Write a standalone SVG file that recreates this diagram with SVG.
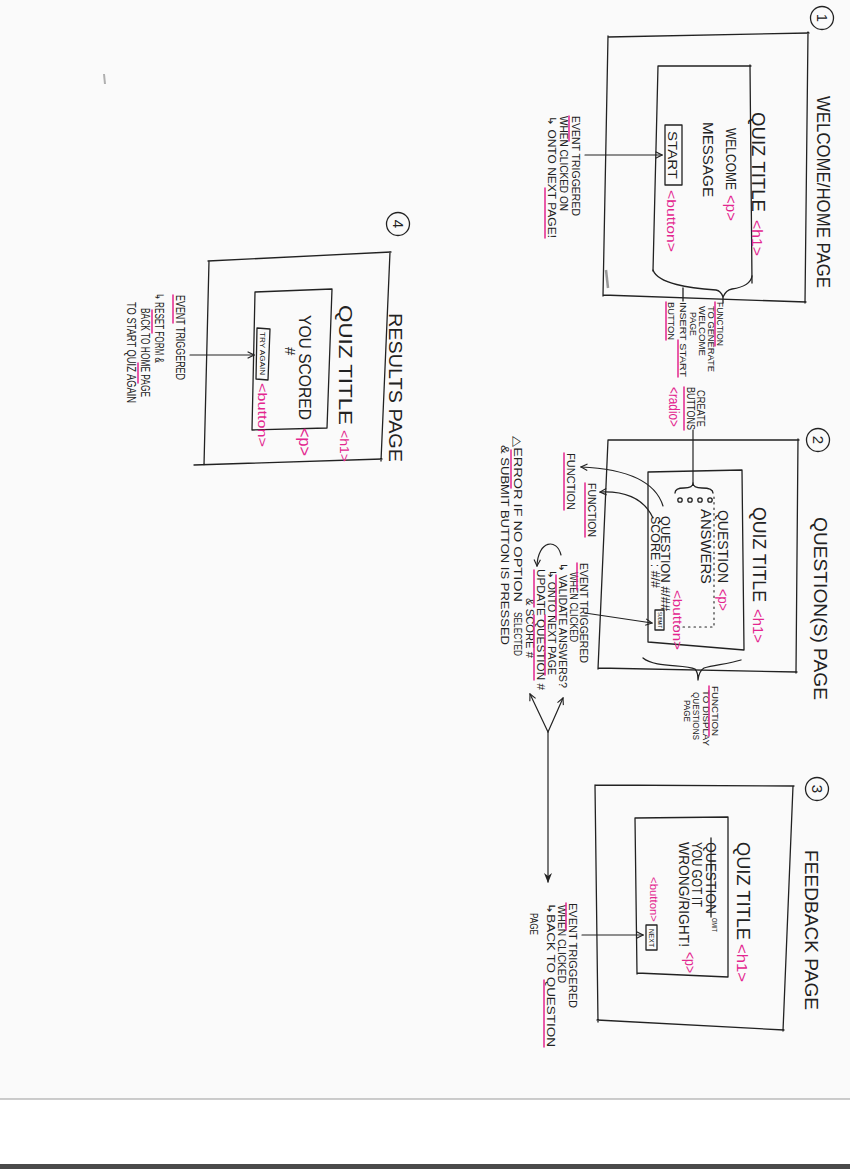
<svg xmlns="http://www.w3.org/2000/svg" width="850" height="1169" viewBox="0 0 850 1169">
  <style>
    .ink{fill:none;stroke:#222;stroke-width:1.3;stroke-linecap:round;stroke-linejoin:round}
    .dot{fill:none;stroke:#222;stroke-width:1.1;stroke-dasharray:1.5 4;stroke-linecap:round}
    .pk{fill:none;stroke:#e3268f;stroke-width:1.5;stroke-linecap:round}
    text{font-family:"Liberation Sans","DejaVu Sans",sans-serif;fill:#222}
    .tag{fill:#e3268f}
    .h{font-size:18px}
    .q{font-size:19px}
    .m{font-size:15px}
    .s{font-size:11px}
    .xs{font-size:9.5px}
    .tiny{font-size:6px}
    .con{fill:none;stroke:#222;stroke-width:1.2;stroke-linecap:round}
  </style>
  <defs>
    <marker id="open" viewBox="0 0 10 10" refX="9" refY="5" markerWidth="8" markerHeight="8" orient="auto" markerUnits="userSpaceOnUse">
      <path d="M1,1 L9,5 L1,9" fill="none" stroke="#222" stroke-width="1.4"/>
    </marker>
    <marker id="solid" viewBox="0 0 10 10" refX="9" refY="5" markerWidth="10" markerHeight="10" orient="auto" markerUnits="userSpaceOnUse">
      <path d="M0,1 L10,5 L0,9 L3,5 Z" fill="#222"/>
    </marker>
  </defs>

  <!-- paper -->
  <rect x="0" y="0" width="850" height="1169" fill="#fafafa"/>
  <rect x="0" y="1099" width="850" height="66" fill="#ffffff"/>
  <line x1="0" y1="1099" x2="850" y2="1099" stroke="#9a9a9a" stroke-width="1"/>
  <rect x="0" y="1164" width="850" height="5" fill="#4a4a4a"/>
  <path d="M104,74 l1,10" stroke="#b0b0b0" stroke-width="2" fill="none"/>

  <!-- 1: welcome / home page -->
  <g id="page-welcome">
    <circle class="ink" cx="822" cy="18" r="11.5"/>
    <text class="m" transform="translate(817,18) rotate(90)" text-anchor="middle">1</text>
    <text class="h" transform="translate(817,96) rotate(90)" textLength="192" lengthAdjust="spacingAndGlyphs">WELCOME/HOME PAGE</text>
    <path class="ink" d="M608,37 L809,33 M808,32 L805,303 M603,295 L806,302 M608,36 L603,296"/>
    <path d="M606,270 l2,18" stroke="#555" stroke-width="2.5" fill="none" opacity="0.6"/>
    <path class="ink" d="M658,66 L751,66 M750,65 L752,283 M658,66 L653,271"/>
    <path class="ink" d="M653,270 C658,284 690,288 716,290 Q721,291 723,297 Q726,290 732,289 C745,287 751,283 752,276"/>
    <path class="ink" d="M723,297 L723,303 M683,288 L683,301"/>
    <text class="q" transform="translate(752,112) rotate(90)" textLength="100" lengthAdjust="spacingAndGlyphs">QUIZ TITLE</text>
    <text class="m tag" transform="translate(752,220) rotate(90)" textLength="36" lengthAdjust="spacingAndGlyphs">&lt;h1&gt;</text>
    <text class="m" transform="translate(726,128) rotate(90)" textLength="62" lengthAdjust="spacingAndGlyphs">WELCOME</text>
    <text class="m tag" transform="translate(726,195) rotate(90)" textLength="26" lengthAdjust="spacingAndGlyphs">&lt;p&gt;</text>
    <text class="m" transform="translate(703,122) rotate(90)" textLength="75" lengthAdjust="spacingAndGlyphs">MESSAGE</text>
    <rect class="ink" x="665" y="125" width="17" height="60"/>
    <text class="m" style="font-size:13px" transform="translate(668,131) rotate(90)" textLength="48" lengthAdjust="spacingAndGlyphs">START</text>
    <text class="m tag" style="font-size:13px" transform="translate(667,190) rotate(90)" textLength="62" lengthAdjust="spacingAndGlyphs">&lt;button&gt;</text>
  </g>

  <!-- notes for page 1 -->
  <g id="note-start-event">
    <text class="s" transform="translate(572,116) rotate(90)" textLength="100" lengthAdjust="spacingAndGlyphs">EVENT TRIGGERED</text>
    <text class="s" transform="translate(560,116) rotate(90)" textLength="95" lengthAdjust="spacingAndGlyphs">WHEN CLICKED ON</text>
    <text class="s" transform="translate(548,116) rotate(90)" textLength="122" lengthAdjust="spacingAndGlyphs">↳ ONTO NEXT PAGE!</text>
    <path class="pk" d="M569,116 L569,141 M545,188 L545,238"/>
  </g>
  <g id="note-welcome-function">
    <text class="xs" transform="translate(717,302) rotate(90)" textLength="44" lengthAdjust="spacingAndGlyphs">FUNCTION</text>
    <text class="xs" transform="translate(708,306) rotate(90)" textLength="66" lengthAdjust="spacingAndGlyphs">TO GENERATE</text>
    <text class="xs" transform="translate(699,306) rotate(90)" textLength="50" lengthAdjust="spacingAndGlyphs">WELCOME</text>
    <text class="xs" transform="translate(690,312) rotate(90)" textLength="24" lengthAdjust="spacingAndGlyphs">PAGE</text>
    <text class="xs" transform="translate(680,302) rotate(90)" textLength="75" lengthAdjust="spacingAndGlyphs">INSERT START</text>
    <text class="xs" transform="translate(668,302) rotate(90)" textLength="38" lengthAdjust="spacingAndGlyphs">BUTTON</text>
    <path class="pk" d="M715,302 L715,346 M678,340 L678,377 M666,302 L666,340"/>
  </g>
  <g id="note-radio">
    <text class="s" transform="translate(697,390) rotate(90)" textLength="37" lengthAdjust="spacingAndGlyphs">CREATE</text>
    <text class="s" transform="translate(687,387) rotate(90)" textLength="43" lengthAdjust="spacingAndGlyphs">BUTTONS</text>
    <text class="m tag" transform="translate(669,387) rotate(90)" textLength="40" lengthAdjust="spacingAndGlyphs">&lt;radio&gt;</text>
    <path class="pk" d="M684,387 L684,430"/>
  </g>

  <!-- 2: question(s) page -->
  <g id="page-questions">
    <circle class="ink" cx="818" cy="440" r="11.5"/>
    <text class="m" transform="translate(813,440) rotate(90)" text-anchor="middle">2</text>
    <text class="h" transform="translate(814,517) rotate(90)" textLength="183" lengthAdjust="spacingAndGlyphs">QUESTION(S) PAGE</text>
    <path class="ink" d="M608,440 L799,440 M798,439 L796,673 M598,668 L797,672 M608,440 L598,669"/>
    <path class="ink" d="M648,472 L742,470 M742,470 L744,650 M648,642 L744,650 M648,472 L648,642"/>
    <text class="q" transform="translate(753,507) rotate(90)" textLength="95" lengthAdjust="spacingAndGlyphs">QUIZ TITLE</text>
    <text class="m tag" transform="translate(753,609) rotate(90)" textLength="34" lengthAdjust="spacingAndGlyphs">&lt;h1&gt;</text>
    <text class="m" transform="translate(718,510) rotate(90)" textLength="73" lengthAdjust="spacingAndGlyphs">QUESTION</text>
    <text class="m tag" transform="translate(718,589) rotate(90)" textLength="22" lengthAdjust="spacingAndGlyphs">&lt;p&gt;</text>
    <path class="dot" d="M714,497 L714,627 L677,627"/>
    <g class="ink">
      <circle cx="680" cy="500" r="2.2"/>
      <circle cx="690" cy="500" r="2.2"/>
      <circle cx="700" cy="500" r="2.2"/>
      <circle cx="710" cy="500" r="2.2"/>
    </g>
    <path class="ink" d="M675,493 Q675,488 684,488 Q693,488 693,483 Q693,488 702,488 Q713,488 713,493"/>
    <text class="m" transform="translate(701,509) rotate(90)" textLength="75" lengthAdjust="spacingAndGlyphs">ANSWERS</text>
    <text class="s" style="font-size:12px" transform="translate(661,516) rotate(90)" textLength="95" lengthAdjust="spacingAndGlyphs">QUESTION #/##</text>
    <text class="s" style="font-size:12px" transform="translate(651,516) rotate(90)" textLength="72" lengthAdjust="spacingAndGlyphs">SCORE : #/#</text>
    <rect class="ink" x="655" y="610" width="9" height="20"/>
    <text class="tiny" transform="translate(657.5,612) rotate(90)" textLength="16" lengthAdjust="spacingAndGlyphs">SUBMIT</text>
    <text class="m tag" style="font-size:13px" transform="translate(673,590) rotate(90)" textLength="60" lengthAdjust="spacingAndGlyphs">&lt;button&gt;</text>
    <path class="ink" d="M643,658 C655,668 685,664 695,669 Q698,672 698,680 Q699,671 704,668 C714,665 728,664 741,660"/>
  </g>

  <!-- notes for page 2 -->
  <g id="note-functions">
    <text class="s" transform="translate(567,453) rotate(90)" textLength="57" lengthAdjust="spacingAndGlyphs">FUNCTION</text>
    <text class="s" transform="translate(588,483) rotate(90)" textLength="54" lengthAdjust="spacingAndGlyphs">FUNCTION</text>
    <path class="pk" d="M564,453 L564,510 M585,483 L585,537"/>
  </g>
  <g id="note-questions-function">
    <text class="xs" transform="translate(712,686) rotate(90)" textLength="50" lengthAdjust="spacingAndGlyphs">FUNCTION</text>
    <text class="xs" transform="translate(703,690) rotate(90)" textLength="56" lengthAdjust="spacingAndGlyphs">TO DISPLAY</text>
    <text class="xs" transform="translate(693,692) rotate(90)" textLength="48" lengthAdjust="spacingAndGlyphs">QUESTIONS</text>
    <text class="xs" transform="translate(684,700) rotate(90)" textLength="22" lengthAdjust="spacingAndGlyphs">PAGE</text>
    <path class="pk" d="M709,686 L709,736"/>
  </g>
  <g id="note-submit-event">
    <text class="s" transform="translate(580,563) rotate(90)" textLength="100" lengthAdjust="spacingAndGlyphs">EVENT TRIGGERED</text>
    <text class="s" transform="translate(570,572) rotate(90)" textLength="70" lengthAdjust="spacingAndGlyphs">WHEN CLICKED</text>
    <text class="s" transform="translate(559,563) rotate(90)" textLength="125" lengthAdjust="spacingAndGlyphs">↳ VALIDATE ANSWERS?</text>
    <text class="s" transform="translate(548,570) rotate(90)" textLength="105" lengthAdjust="spacingAndGlyphs">↳ ONTO NEXT PAGE</text>
    <text class="s" transform="translate(537,569) rotate(90)" textLength="121" lengthAdjust="spacingAndGlyphs">UPDATE QUESTION #</text>
    <text class="s" transform="translate(526,598) rotate(90)" textLength="60" lengthAdjust="spacingAndGlyphs">&amp; SCORE #</text>
    <path class="pk" d="M577,563 L577,590 M556,575 L556,620 M545,615 L545,675 M534,570 L534,607 M534,615 L534,680"/>
  </g>
  <g id="note-error">
    <text class="s" transform="translate(514,436) rotate(90)" textLength="166" lengthAdjust="spacingAndGlyphs">△ERROR IF NO OPTION</text>
    <text class="s" transform="translate(514,612) rotate(90)" textLength="44" lengthAdjust="spacingAndGlyphs">SELECTED</text>
    <text class="s" transform="translate(501,445) rotate(90)" textLength="200" lengthAdjust="spacingAndGlyphs">&amp; SUBMIT BUTTON IS PRESSED</text>
    <path class="pk" d="M511,450 L511,488"/>
  </g>

  <!-- 3: feedback page -->
  <g id="page-feedback">
    <circle class="ink" cx="817" cy="789" r="11.5"/>
    <text class="m" transform="translate(812,789) rotate(90)" text-anchor="middle">3</text>
    <text class="h" transform="translate(805,850) rotate(90)" textLength="160" lengthAdjust="spacingAndGlyphs">FEEDBACK PAGE</text>
    <path class="ink" d="M595,785 L794,786 M793,786 L783,1031 M597,1020 L784,1030 M595,785 L598,1022"/>
    <path class="ink" d="M635,818 L728,817 M728,817 L728,977 M637,973 L728,977 M635,818 L637,974"/>
    <text class="q" transform="translate(737,842) rotate(90)" textLength="98" lengthAdjust="spacingAndGlyphs">QUIZ TITLE</text>
    <text class="m tag" transform="translate(737,944) rotate(90)" textLength="38" lengthAdjust="spacingAndGlyphs">&lt;h1&gt;</text>
    <text class="m" transform="translate(706,842) rotate(90)" textLength="72" lengthAdjust="spacingAndGlyphs">QUESTION</text>
    <path class="ink" d="M711,838 L711,917"/>
    <text style="font-size:7px" transform="translate(712,918) rotate(90)" textLength="14" lengthAdjust="spacingAndGlyphs">OMIT</text>
    <text class="m" transform="translate(692,842) rotate(90)" textLength="65" lengthAdjust="spacingAndGlyphs">YOU GOT IT</text>
    <text class="m" transform="translate(679,842) rotate(90)" textLength="105" lengthAdjust="spacingAndGlyphs">WRONG/RIGHT!</text>
    <text class="m tag" transform="translate(685,952) rotate(90)" textLength="21" lengthAdjust="spacingAndGlyphs">&lt;p&gt;</text>
    <text class="s tag" transform="translate(650,877) rotate(90)" textLength="45" lengthAdjust="spacingAndGlyphs">&lt;button&gt;</text>
    <rect class="ink" x="646" y="925" width="11" height="25"/>
    <text style="font-size:7px" transform="translate(649,929) rotate(90)" textLength="18" lengthAdjust="spacingAndGlyphs">NEXT</text>
  </g>
  <g id="note-next-event">
    <text class="s" transform="translate(569,903) rotate(90)" textLength="105" lengthAdjust="spacingAndGlyphs">EVENT TRIGGERED</text>
    <text class="s" transform="translate(558,905) rotate(90)" textLength="78" lengthAdjust="spacingAndGlyphs">WHEN CLICKED</text>
    <text class="s" transform="translate(547,903) rotate(90)" textLength="144" lengthAdjust="spacingAndGlyphs">↳BACK TO QUESTION</text>
    <text class="s" transform="translate(530,913) rotate(90)" textLength="22" lengthAdjust="spacingAndGlyphs">PAGE</text>
    <path class="pk" d="M566,903 L566,930 M544,980 L544,1047"/>
  </g>

  <!-- 4: results page -->
  <g id="page-results">
    <circle class="ink" cx="398" cy="224" r="11.5"/>
    <text class="m" transform="translate(393,224) rotate(90)" text-anchor="middle">4</text>
    <text class="h" transform="translate(389,313) rotate(90)" textLength="149" lengthAdjust="spacingAndGlyphs">RESULTS PAGE</text>
    <path class="ink" d="M208,261 L391,252 M390,252 L381,461 M194,465 L382,459 M209,261 L204,465"/>
    <path class="ink" d="M255,292 L332,289 M332,289 L327,428 M252,430 L327,428 M255,292 L252,430"/>
    <text class="q" style="font-size:18px" transform="translate(339,305) rotate(90)" textLength="120" lengthAdjust="spacingAndGlyphs">QUIZ TITLE</text>
    <text class="m tag" style="font-size:13px" transform="translate(340,430) rotate(90)" textLength="32" lengthAdjust="spacingAndGlyphs">&lt;h1&gt;</text>
    <text class="m" style="font-size:16px" transform="translate(299,315) rotate(90)" textLength="105" lengthAdjust="spacingAndGlyphs">YOU SCORED</text>
    <text class="m tag" style="font-size:16px" transform="translate(299,428) rotate(90)" textLength="28" lengthAdjust="spacingAndGlyphs">&lt;p&gt;</text>
    <text class="m" transform="translate(285,347) rotate(90)">#</text>
    <path class="ink" d="M257,328 L270,329 L268,380 L256,379 Z"/>
    <text style="font-size:7px" transform="translate(260,332) rotate(90)" textLength="43" lengthAdjust="spacingAndGlyphs">TRY AGAIN</text>
    <text class="m tag" style="font-size:13px" transform="translate(258,383) rotate(90)" textLength="64" lengthAdjust="spacingAndGlyphs">&lt;button&gt;</text>
  </g>
  <g id="note-reset-event">
    <text class="s" style="font-size:12px" transform="translate(176,295) rotate(90)" textLength="85" lengthAdjust="spacingAndGlyphs">EVENT TRIGGERED</text>
    <text class="s" style="font-size:12px" transform="translate(155,293) rotate(90)" textLength="70" lengthAdjust="spacingAndGlyphs">↳ RESET FORM &amp;</text>
    <text class="s" style="font-size:12px" transform="translate(141,308) rotate(90)" textLength="89" lengthAdjust="spacingAndGlyphs">BACK TO HOME PAGE</text>
    <text class="s" style="font-size:12px" transform="translate(127,302) rotate(90)" textLength="101" lengthAdjust="spacingAndGlyphs">TO START QUIZ AGAIN</text>
    <path class="pk" d="M173,295 L173,323 M152,310 L152,333 M138,363 L138,383"/>
  </g>

  <!-- connectors -->
  <g id="connectors">
    <path class="con" d="M585,155 L662,155" marker-end="url(#open)"/>
    <path class="con" d="M693,430 L693,483"/>
    <path class="con" d="M663,506 Q652,470 581,467" marker-end="url(#open)"/>
    <path class="con" d="M653,518 Q640,490 600,492" marker-end="url(#open)"/>
    <path class="con" d="M585,613 L652,623" marker-end="url(#open)"/>
    <path class="con" d="M561,555 C557,538 538,540 537,566" marker-end="url(#open)"/>
    <path class="con" d="M548,732 L530,694" marker-end="url(#open)"/>
    <path class="con" d="M548,732 L563,698" marker-end="url(#open)"/>
    <path class="con" d="M548,732 L548,882" marker-end="url(#solid)"/>
    <path class="con" d="M582,935 L643,935" marker-end="url(#open)"/>
    <path class="con" d="M190,355 L254,355" marker-end="url(#open)"/>
  </g>
</svg>
